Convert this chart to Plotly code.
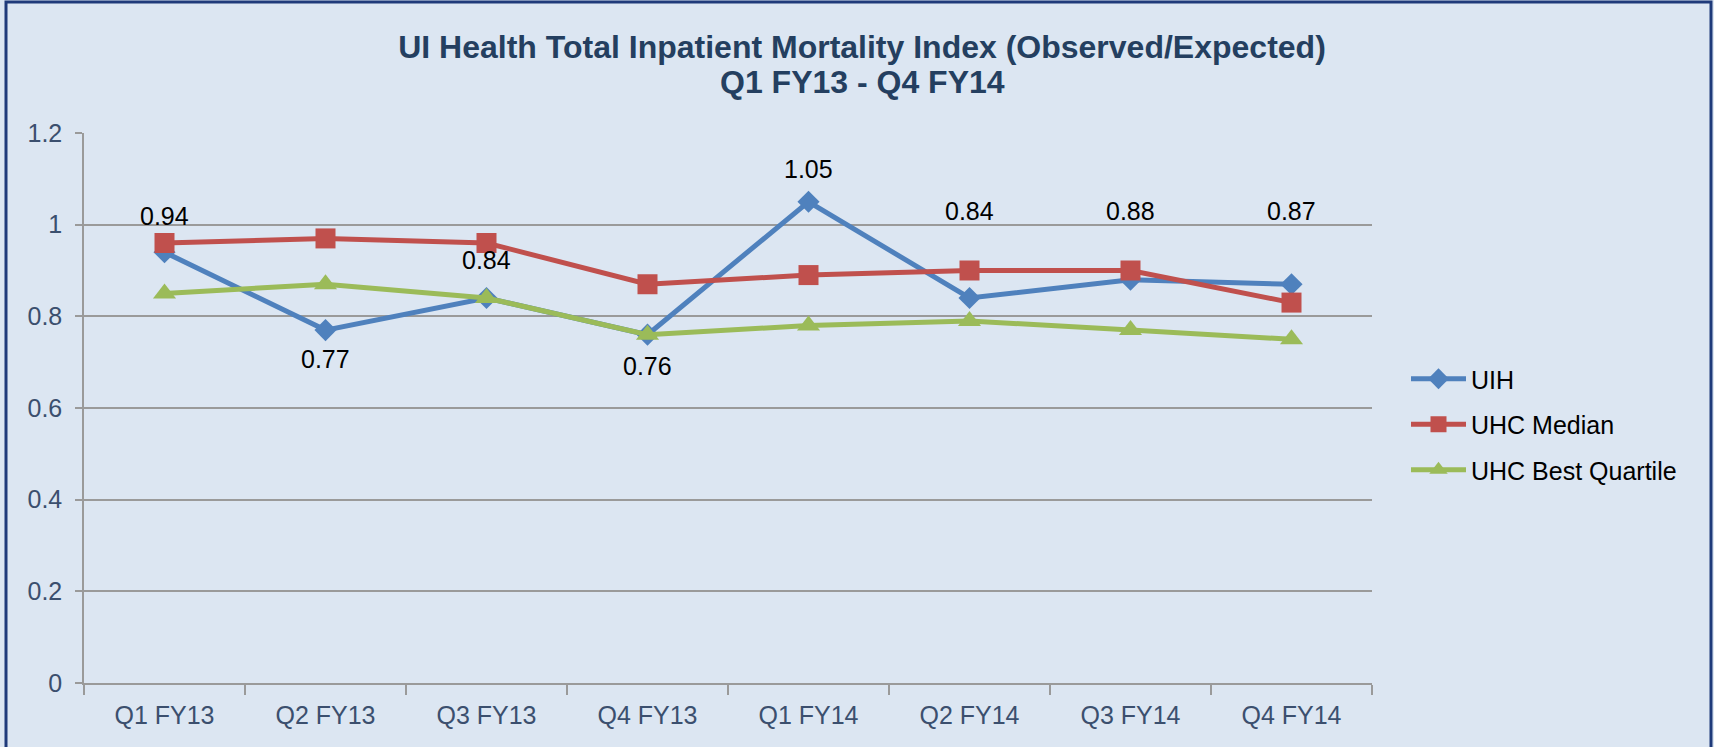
import plotly.graph_objects as go

categories = ["Q1 FY13", "Q2 FY13", "Q3 FY13", "Q4 FY13", "Q1 FY14", "Q2 FY14", "Q3 FY14", "Q4 FY14"]
uih = [0.94, 0.77, 0.84, 0.76, 1.05, 0.84, 0.88, 0.87]
uhc_median = [0.96, 0.97, 0.96, 0.87, 0.89, 0.90, 0.90, 0.83]
uhc_best = [0.85, 0.87, 0.84, 0.76, 0.78, 0.79, 0.77, 0.75]
# vertical pixel offset of each UIH data label from its point (styling only)
uih_label_shift = [36, -29, 38, -31, 33, 87, 69, 73]
title_line1 = "UI Health Total Inpatient Mortality Index (Observed/Expected)"
title_line2 = "Q1 FY13 - Q4 FY14"

W, H = 1714, 747
ml, mr, mt, mb = 84, 342, 133, 64
pw, ph = W - ml - mr, H - mt - mb
FONT = "Liberation Sans, Arial, sans-serif"
title_cx = 862  # title centre in pixels

fig = go.Figure()
fig.add_trace(go.Scatter(x=categories, y=uih, name="UIH", mode="lines+markers", legendgroup="a",
                         line=dict(color="#4F81BD", width=5),
                         marker=dict(symbol="diamond", size=17, color="#4F81BD")))
fig.add_trace(go.Scatter(x=categories, y=uhc_median, name="UHC Median", mode="lines+markers", legendgroup="b",
                         line=dict(color="#C0504D", width=5),
                         marker=dict(symbol="square", size=20, color="#C0504D")))
fig.add_trace(go.Scatter(x=categories, y=uhc_best, name="UHC Best Quartile", mode="lines+markers", legendgroup="c",
                         line=dict(color="#9BBB59", width=5),
                         marker=dict(symbol="triangle-up", size=20, color="#9BBB59")))

annotations = []
for c, v, s in zip(categories, uih, uih_label_shift):
    annotations.append(dict(x=c, y=v, xref="x", yref="y", text=f"{v:.2f}", showarrow=False,
                            yshift=s, font=dict(family=FONT, size=25, color="#000000")))
annotations.append(dict(x=(title_cx - ml) / pw, y=(H - mb - 82) / ph, xref="paper", yref="paper",
                        xanchor="center", yanchor="middle", showarrow=False,
                        text=f"<b>{title_line2}</b>",
                        font=dict(family=FONT, size=32, color="#243F60")))

fig.update_layout(
    width=W, height=H,
    margin=dict(l=ml, r=mr, t=mt, b=mb),
    paper_bgcolor="#DCE6F2", plot_bgcolor="#DCE6F2",
    font=dict(family=FONT, size=25, color="#3B4F6E"),
    title=dict(text=f"<b>{title_line1}</b>",
               x=title_cx / W, xanchor="center", y=1 - 47 / H, yanchor="middle",
               font=dict(family=FONT, size=32, color="#243F60")),
    xaxis=dict(type="category", showgrid=False, showline=True, linecolor="#9A9A9A", linewidth=1.5,
               ticks="outside", tickson="boundaries", ticklen=10, tickcolor="#9A9A9A", tickwidth=1.5,
               ticklabelstandoff=9,
               tickfont=dict(size=25, color="#3B4F6E"), range=[-0.5, 7.5]),
    yaxis=dict(range=[0, 1.2], dtick=0.2, showgrid=True, gridcolor="#9A9A9A", gridwidth=1.5,
               showline=True, linecolor="#9A9A9A", linewidth=1.5, zeroline=False,
               ticks="outside", ticklen=7, tickcolor="#9A9A9A", tickwidth=1.5,
               ticklabelstandoff=8,
               tickfont=dict(size=25, color="#3B4F6E"), tickformat="~g"),
    legend=dict(x=(1406 - ml) / pw, xanchor="left", y=(H - mb - 356) / ph, yanchor="top",
                font=dict(size=25, color="#000000"), bgcolor="rgba(0,0,0,0)",
                itemwidth=55, tracegroupgap=10),
    annotations=annotations,
    shapes=[dict(type="rect", xref="paper", yref="paper",
                 x0=-(ml - 6) / pw, x1=(W - ml - 3) / pw,
                 y0=-(mb + 10) / ph, y1=(H - mb - 2) / ph,
                 line=dict(color="#1F3A7A", width=3), fillcolor="rgba(0,0,0,0)", layer="above")],
)

fig.write_html("out.html", config={"displayModeBar": False},
               post_script="document.body.style.margin='0';document.body.style.overflow='hidden';")
